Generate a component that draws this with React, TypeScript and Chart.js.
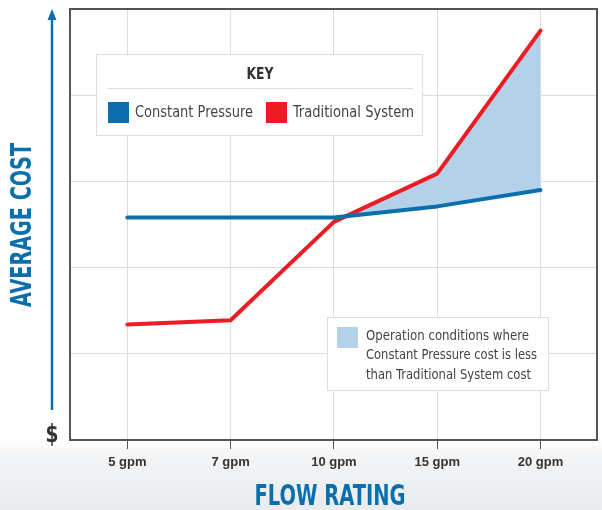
import React, { useEffect, useRef } from "react";
import { Chart, registerables } from "chart.js";

Chart.register(...registerables);

// ---- data ----
const categories = ["5 gpm", "7 gpm", "10 gpm", "15 gpm", "20 gpm"];
const constantPressure = [2.58, 2.58, 2.58, 2.71, 2.9];
const traditionalSystem = [1.34, 1.39, 2.53, 3.09, 4.75];
const yMin = 0;
const yMax = 5;
const seriesNames = ["Constant Pressure", "Traditional System"];
const legendTitle = "KEY";
const noteLines = [
  "Operation conditions where",
  "Constant Pressure cost is less",
  "than Traditional System cost",
];
const yTitle = "AVERAGE COST";
const xTitle = "FLOW RATING";
const yBaseLabel = "$";

// ---- styles ----
const BLUE = "#0b6fae";
const RED = "#ed1c24";
const FILL = "#b3d2ea";
const TEXT = "#444444";
const DARK = "#333333";
const BORDER = "#555555";
const GRID = "#dcdcdc";
const BOX = "#dddddd";
const FONT = '"DejaVu Sans Condensed", "Liberation Sans", sans-serif';
const TICK_FONT = '"Liberation Sans", Arial, sans-serif';

// draw text horizontally condensed to a target width
function fitText(
  ctx: CanvasRenderingContext2D,
  text: string,
  x: number,
  y: number,
  targetW: number,
  align: "left" | "center"
) {
  const w = ctx.measureText(text).width || 1;
  const sx = targetW / w;
  ctx.save();
  ctx.translate(x, y);
  ctx.scale(sx, 1);
  ctx.textAlign = align;
  ctx.textBaseline = "middle";
  ctx.fillText(text, 0, 0);
  ctx.restore();
}

const decorPlugin = {
  id: "decor",
  beforeDraw(chart: any) {
    const { ctx, width, height, chartArea } = chart;
    ctx.save();
    ctx.fillStyle = "#ffffff";
    ctx.fillRect(0, 0, width, height);
    const g = ctx.createLinearGradient(0, 440, 0, height);
    g.addColorStop(0, "#ffffff");
    g.addColorStop(0.25, "#f3f4f5");
    g.addColorStop(1, "#e9ebed");
    ctx.fillStyle = g;
    ctx.fillRect(0, 440, width, height - 440);
    ctx.fillStyle = "#ffffff";
    ctx.fillRect(chartArea.left, chartArea.top, chartArea.right - chartArea.left, chartArea.bottom - chartArea.top);
    ctx.restore();
  },
  afterDraw(chart: any) {
    const { ctx, chartArea } = chart;
    const { left, right, top, bottom } = chartArea;
    ctx.save();
    // plot border
    ctx.strokeStyle = BORDER;
    ctx.lineWidth = 2;
    ctx.strokeRect(left, top, right - left, bottom - top);

    // y arrow
    const ax = 52;
    ctx.strokeStyle = BLUE;
    ctx.lineWidth = 2.5;
    ctx.beginPath();
    ctx.moveTo(ax, 410);
    ctx.lineTo(ax, 18);
    ctx.stroke();
    ctx.fillStyle = BLUE;
    ctx.beginPath();
    ctx.moveTo(ax, 9);
    ctx.lineTo(ax - 4.5, 20);
    ctx.lineTo(ax + 4.5, 20);
    ctx.closePath();
    ctx.fill();

    // $
    ctx.fillStyle = DARK;
    ctx.font = `bold 25px ${FONT}`;
    fitText(ctx, yBaseLabel, ax, 435, 13, "center");

    // y title
    ctx.save();
    ctx.translate(24, 225);
    ctx.rotate(-Math.PI / 2);
    ctx.fillStyle = BLUE;
    ctx.font = `bold 28px ${FONT}`;
    fitText(ctx, yTitle, 0, 0, 164, "center");
    ctx.restore();

    // x title
    ctx.fillStyle = BLUE;
    ctx.font = `bold 28px ${FONT}`;
    fitText(ctx, xTitle, 330, 498, 151, "center");

    // legend box
    ctx.fillStyle = "#ffffff";
    ctx.fillRect(96.5, 54.5, 326, 81);
    ctx.strokeStyle = BOX;
    ctx.lineWidth = 1;
    ctx.strokeRect(96.5, 54.5, 326, 81);
    ctx.fillStyle = DARK;
    ctx.font = `bold 16px ${FONT}`;
    fitText(ctx, legendTitle, 260, 75, 27, "center");
    ctx.beginPath();
    ctx.moveTo(108, 88.5);
    ctx.lineTo(413, 88.5);
    ctx.stroke();
    ctx.font = `16px ${FONT}`;
    ctx.fillStyle = BLUE;
    ctx.fillRect(108, 102, 21, 21);
    ctx.fillStyle = TEXT;
    fitText(ctx, seriesNames[0], 135, 112.5, 118, "left");
    ctx.fillStyle = RED;
    ctx.fillRect(266, 102, 21, 21);
    ctx.fillStyle = TEXT;
    fitText(ctx, seriesNames[1], 293, 112.5, 121, "left");

    // note box
    ctx.fillStyle = "#ffffff";
    ctx.fillRect(327.5, 317.5, 221, 73);
    ctx.strokeStyle = BOX;
    ctx.strokeRect(327.5, 317.5, 221, 73);
    ctx.fillStyle = FILL;
    ctx.fillRect(337, 327, 21, 21);
    ctx.fillStyle = TEXT;
    ctx.font = `14.5px ${FONT}`;
    const noteW = [163, 171, 165];
    noteLines.forEach((t, i) => fitText(ctx, t, 366, 336 + i * 19.7, noteW[i], "left"));
    ctx.restore();
  },
};

export default function App() {
  const ref = useRef<HTMLCanvasElement | null>(null);
  useEffect(() => {
    document.body.style.margin = "0";
    const canvas = ref.current;
    if (!canvas) return;
    const toPts = (arr: number[]) => arr.map((v, i) => ({ x: i, y: v }));
    const chart = new Chart(canvas, {
      type: "line",
      data: {
        datasets: [
          {
            label: seriesNames[0],
            data: toPts(constantPressure),
            borderColor: BLUE,
            backgroundColor: BLUE,
            borderWidth: 4,
            pointRadius: 0,
            tension: 0,
            fill: false,
            borderCapStyle: "round",
            borderJoinStyle: "round",
          },
          {
            label: seriesNames[1],
            data: toPts(traditionalSystem),
            borderColor: RED,
            backgroundColor: RED,
            borderWidth: 4,
            pointRadius: 0,
            tension: 0,
            fill: { target: 0, above: FILL, below: "rgba(0,0,0,0)" },
            borderCapStyle: "round",
            borderJoinStyle: "round",
          },
        ],
      },
      options: {
        responsive: false,
        animation: false,
        devicePixelRatio: 1,
        layout: { padding: { left: 0, top: 9, right: 5, bottom: 0 } },
        plugins: { legend: { display: false }, tooltip: { enabled: false } },
        scales: {
          x: {
            type: "linear",
            min: -0.555,
            max: 4.547,
            afterBuildTicks: (s: any) => {
              s.ticks = categories.map((_, i) => ({ value: i }));
            },
            afterFit: (s: any) => {
              s.height = 70;
            },
            ticks: {
              autoSkip: false,
              maxRotation: 0,
              padding: 6,
              color: DARK,
              font: { family: TICK_FONT, size: 13, weight: "bold" },
              callback: (v: any) => categories[v] ?? "",
            },
            grid: { color: GRID, tickColor: BORDER, tickLength: 9, lineWidth: 1 },
            border: { display: false },
          },
          y: {
            type: "linear",
            min: yMin,
            max: yMax,
            ticks: { display: false, stepSize: 1 },
            afterFit: (s: any) => {
              s.width = 70;
            },
            grid: { color: GRID, drawTicks: false, lineWidth: 1 },
            border: { display: false },
          },
        },
      },
      plugins: [decorPlugin],
    } as any);
    return () => chart.destroy();
  }, []);
  return (
    <div style={{ position: "fixed", left: 0, top: 0, width: 602, height: 510 }}>
      <canvas ref={ref} width={602} height={510} />
    </div>
  );
}
